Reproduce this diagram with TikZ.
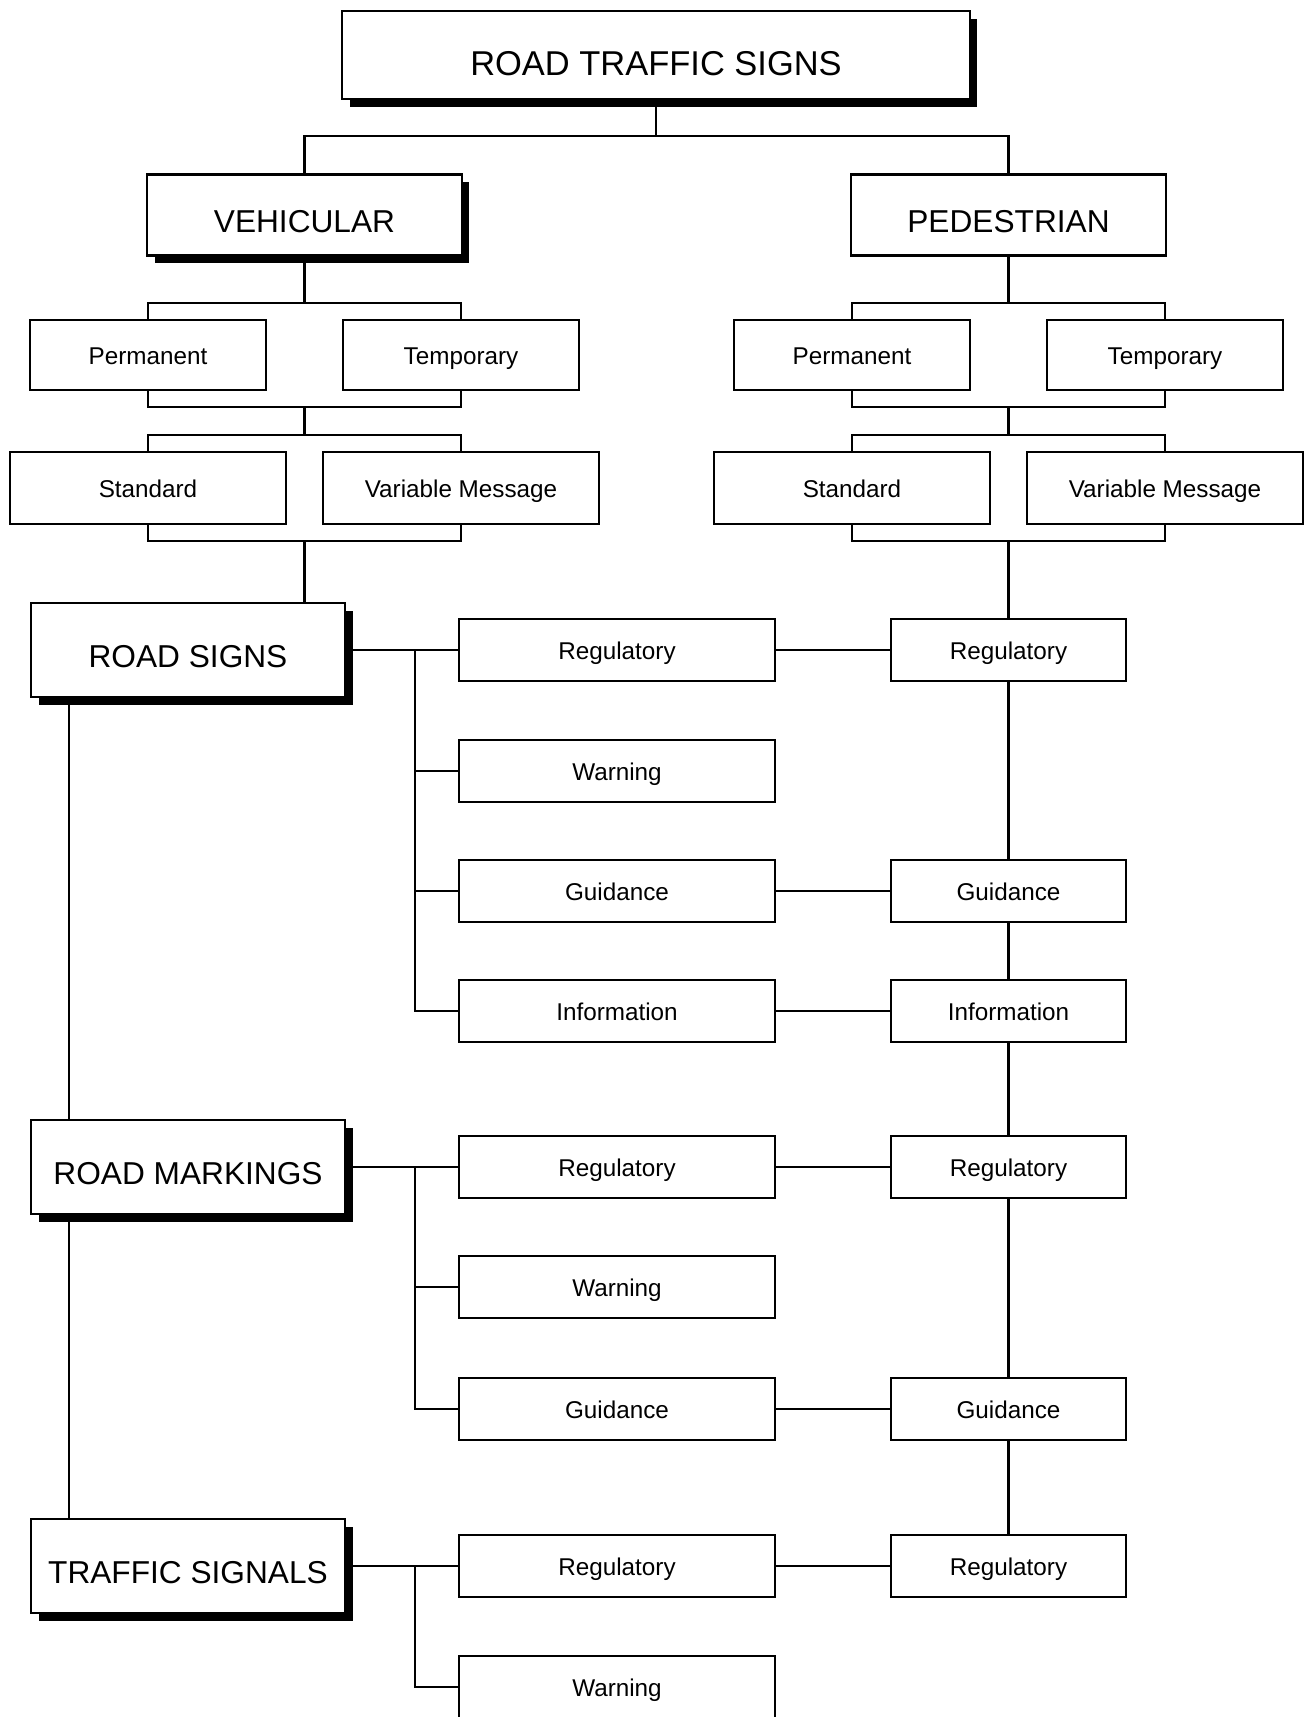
\documentclass[tikz,border=0pt]{standalone}
\usepackage{fontspec}
\newfontfamily\diafont{Liberation Sans}
\usetikzlibrary{positioning,calc,shadows,backgrounds}

\tikzset{
  wire/.style={line width=0.6pt},
  subbox/.style={draw, line width=0.6pt, fill=white, inner sep=0pt,
    font=\diafont\fontsize{6.9}{8}\selectfont, minimum height=0.62cm,
    text height=5.5pt, text depth=0pt},
  headbox/.style={subbox, font=\diafont\fontsize{9}{11}\selectfont,
    minimum width=3.14cm, text height=10pt},
  boxshadow/.style={drop shadow={shadow xshift=2.2pt, shadow yshift=-2.2pt,
    fill=black, opacity=1}},
}

\begin{document}
\begin{tikzpicture}[x=0.01cm, y=-0.01cm]
  \useasboundingbox (0,0) rectangle (1307,1717);
  % top level
  \node[headbox, boxshadow, minimum width=6.27cm, minimum height=0.88cm, text height=11.4pt,
    font=\diafont\fontsize{9.8}{12}\selectfont] (rts) at (656,55) {ROAD TRAFFIC SIGNS};
  \node[headbox, boxshadow, minimum height=0.81cm] (veh) at (304.5,215) {VEHICULAR};
  \node[headbox, minimum height=0.81cm] (ped) at (1008.5,215) {PEDESTRIAN};
  \coordinate (split) at (656,136);
  \draw[wire] (rts.south) -- (split);
  \draw[wire] (veh.north) |- (split) -| (ped.north);

  % kinds of sign, one pair of pairs under each head
  \foreach \s/\x in {v/148, p/852} {
    \node[subbox, minimum width=2.35cm, minimum height=0.70cm] (\s perm) at (\x,355) {Permanent};
    \node[subbox, minimum width=2.35cm, minimum height=0.70cm] (\s temp) at (\x+313,355) {Temporary};
    \node[subbox, minimum width=2.75cm, minimum height=0.72cm] (\s std) at (\x,488) {Standard};
    \node[subbox, minimum width=2.75cm, minimum height=0.72cm] (\s var) at (\x+313,488) {Variable Message};
  }
  \begin{scope}[on background layer]
    \foreach \s in {v,p} {
      \draw[wire] ($(\s perm.north)+(0,-16)$) rectangle ($(\s temp.south)+(0,16)$);
      \draw[wire] ($(\s std.north)+(0,-16)$) rectangle ($(\s var.south)+(0,16)$);
      \draw[wire] ($(\s perm.south)!.5!(\s temp.south)+(0,16)$)
        -- ($(\s std.north)!.5!(\s var.north)+(0,-16)$);
      \coordinate (\s low) at ($(\s std.south)!.5!(\s var.south)+(0,16)$);
      \coordinate (\s high) at ($(\s perm.north)!.5!(\s temp.north)+(0,-16)$);
    }
  \end{scope}
  \draw[wire] (veh.south) -- (veh.south |- vhigh);
  \draw[wire] (ped.south) -- (ped.south |- phigh);

  % vehicular groups on the left
  \node[headbox, boxshadow, minimum height=0.94cm] (signs) at (188,650) {ROAD SIGNS};
  \node[headbox, boxshadow, minimum height=0.94cm] (marks) at (188,1167) {ROAD MARKINGS};
  \node[headbox, boxshadow, minimum height=0.94cm] (signals) at (188,1566) {TRAFFIC SIGNALS};
  \draw[wire] (vlow) -- (vlow |- signs.north);
  \draw[wire] ($(signs.south west)+(39,0)$) -- ($(marks.north west)+(39,0)$);
  \draw[wire] ($(marks.south west)+(39,0)$) -- ($(signals.north west)+(39,0)$);

  % middle column
  \foreach \n/\y/\t in {m1/650/Regulatory, m2/771/Warning, m3/891/Guidance,
      m4/1011/Information, m5/1167/Regulatory, m6/1287/Warning, m7/1409/Guidance,
      m8/1566/Regulatory, m9/1687/Warning}
    \node[subbox, minimum width=3.15cm] (\n) at (617,\y) {\t};

  % pedestrian column
  \foreach \n/\y/\t in {r1/650/Regulatory, r3/891/Guidance, r4/1011/Information,
      r5/1167/Regulatory, r7/1409/Guidance, r8/1566/Regulatory}
    \node[subbox, minimum width=2.35cm] (\n) at (1008.5,\y) {\t};

  % branches
  \draw[wire] (signs.east) -- (m1.west);
  \draw[wire] (marks.east) -- (m5.west);
  \draw[wire] (signals.east) -- (m8.west);
  \coordinate (ts) at ($(m1.west)+(-43,0)$);
  \coordinate (tm) at ($(m5.west)+(-43,0)$);
  \coordinate (tl) at ($(m8.west)+(-43,0)$);
  \foreach \m in {m2,m3,m4} \draw[wire] (ts) |- (\m.west);
  \foreach \m in {m6,m7} \draw[wire] (tm) |- (\m.west);
  \draw[wire] (tl) |- (m9.west);

  % links across and the pedestrian trunk
  \foreach \n in {1,3,4,5,7,8} \draw[wire] (m\n.east) -- (r\n.west);
  \draw[wire] (plow) -- (r1.north);
  \draw[wire] (r1) -- (r3) -- (r4) -- (r5) -- (r7) -- (r8);
\end{tikzpicture}
\end{document}
